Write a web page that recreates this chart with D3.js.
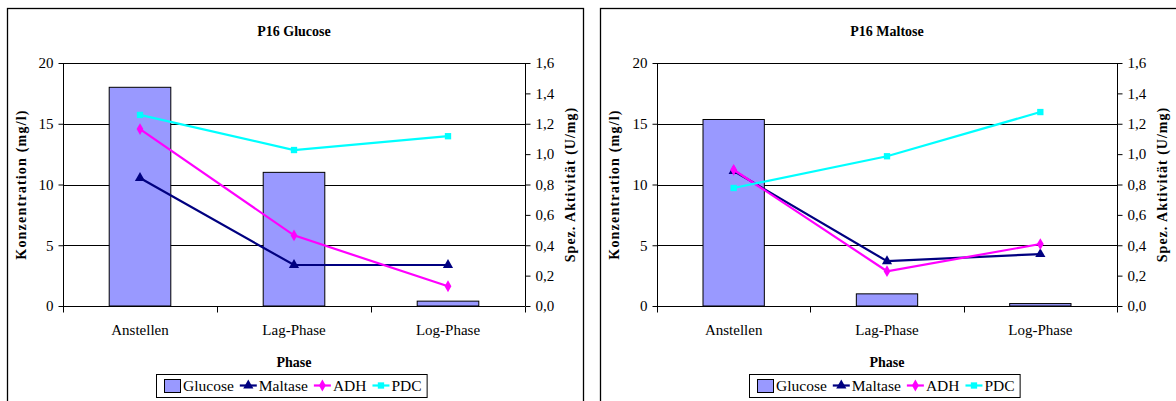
<!DOCTYPE html>
<html>
<head>
<meta charset="utf-8">
<script src="https://cdn.jsdelivr.net/npm/d3@7"></script>
<style>
  html, body { margin: 0; padding: 0; background: #fff; }
  svg { display: block; }
  svg text { font-family: "Liberation Serif", "Times New Roman", serif !important; fill: #000; }
</style>
</head>
<body>
<svg id="chart" width="1176" height="401"></svg>
<script>
// ---- Data ----
const categories = ["Anstellen", "Lag-Phase", "Log-Phase"];
const leftTicks = [0, 5, 10, 15, 20];
const rightTicks = [0, 0.2, 0.4, 0.6, 0.8, 1.0, 1.2, 1.4, 1.6];
const seriesNames = ["Glucose", "Maltase", "ADH", "PDC"];

// P16 Glucose
const glucoseConcG = [18.0, 11.0, 0.4];
const maltaseActG = [0.843, 0.27, 0.27];
const adhActG = [1.165, 0.465, 0.13];
const pdcActG = [1.258, 1.027, 1.118];

// P16 Maltose
const glucoseConcM = [15.35, 1.0, 0.2];
const maltaseActM = [0.889, 0.295, 0.342];
const adhActM = [0.897, 0.229, 0.408];
const pdcActM = [0.777, 0.986, 1.277];

const titles = ["P16 Glucose", "P16 Maltose"];
const yLeftTitle = "Konzentration (mg/l)";
const yRightTitle = "Spez. Aktivität (U/mg)";
const xTitle = "Phase";

// ---- Styles ----
const colors = { Glucose: "#9999FF", Maltase: "#000080", ADH: "#FF00FF", PDC: "#00FFFF" };
const markers = { Maltase: d3.symbolTriangle, ADH: d3.symbolDiamond, PDC: d3.symbolSquare };
const markerSize = { Maltase: 45, ADH: 40, PDC: 40 };
const FONT = "Liberation Serif, Times New Roman, serif";

const svg = d3.select("#chart");

function drawChart(opts) {
  const { frameX, frameW, plotX0, plotX1, title, bars, lines } = opts;
  const plotY0 = 63, plotY1 = 306;

  // frame
  svg.append("rect")
    .attr("x", frameX + 0.5).attr("y", 8.5)
    .attr("width", frameW).attr("height", 420)
    .attr("fill", "#fff").attr("stroke", "#000").attr("stroke-width", 1.3);

  const g = svg.append("g");

  const x = d3.scaleBand().domain(categories).range([plotX0, plotX1]).paddingInner(0).paddingOuter(0);
  const yL = d3.scaleLinear().domain([0, 20]).range([plotY1, plotY0]);
  const yR = d3.scaleLinear().domain([0, 1.6]).range([plotY1, plotY0]);

  // gridlines
  g.append("g").selectAll("line").data(leftTicks.filter(d => d > 0)).join("line")
    .attr("x1", plotX0).attr("x2", plotX1)
    .attr("y1", d => Math.round(yL(d)) + 0.5).attr("y2", d => Math.round(yL(d)) + 0.5)
    .attr("stroke", "#000").attr("stroke-width", 1);

  // bars
  const bw = x.bandwidth() * 0.4;
  g.append("g").selectAll("rect").data(bars).join("rect")
    .attr("x", (d, i) => x(categories[i]) + (x.bandwidth() - bw) / 2)
    .attr("y", d => yL(d))
    .attr("width", bw)
    .attr("height", d => yL(0) - yL(d))
    .attr("fill", colors.Glucose).attr("stroke", "#000").attr("stroke-width", 1);

  // left axis
  const axL = g.append("g").attr("transform", `translate(${plotX0 + 0.5},0)`)
    .call(d3.axisLeft(yL).tickValues(leftTicks).tickSize(5).tickPadding(5).tickFormat(d3.format("d")));
  axL.attr("font-family", FONT).attr("font-size", 15);
  axL.select(".domain").attr("d", `M0,${plotY0}V${plotY1}`);

  // right axis
  const fmtR = d => d.toFixed(1).replace(".", ",");
  const axR = g.append("g").attr("transform", `translate(${plotX1 + 0.5},0)`)
    .call(d3.axisRight(yR).tickValues(rightTicks).tickSize(5).tickPadding(5).tickFormat(fmtR));
  axR.attr("font-family", FONT).attr("font-size", 15);
  axR.select(".domain").attr("d", `M0,${plotY0}V${plotY1}`);

  // bottom axis
  const axB = g.append("g").attr("transform", `translate(0,${plotY1 + 0.5})`)
    .call(d3.axisBottom(x).tickSize(0).tickPadding(18));
  axB.attr("font-family", FONT).attr("font-size", 15);
  axB.select(".domain").attr("d", `M${plotX0},0H${plotX1}`);
  const bounds = categories.map(c => x(c)).concat([plotX1]);
  axB.append("g").selectAll("line").data(bounds).join("line")
    .attr("x1", d => Math.round(d) + 0.5).attr("x2", d => Math.round(d) + 0.5)
    .attr("y1", 0).attr("y2", 6).attr("stroke", "#000");

  // lines
  lines.forEach(s => {
    const pts = s.values.map((v, i) => [x(categories[i]) + x.bandwidth() / 2, yR(v)]);
    g.append("path").datum(pts)
      .attr("d", d3.line())
      .attr("fill", "none").attr("stroke", colors[s.name]).attr("stroke-width", 2.2);
    g.append("g").selectAll("path").data(pts).join("path")
      .attr("transform", d => `translate(${d[0]},${d[1]})`)
      .attr("d", d3.symbol().type(markers[s.name]).size(markerSize[s.name]))
      .attr("fill", colors[s.name]);
  });

  // titles
  const cx = (plotX0 + plotX1) / 2;
  svg.append("text").attr("x", cx).attr("y", 36).attr("text-anchor", "middle")
    .style("font-size", "14px").style("font-weight", "bold").text(title);
  svg.append("text").attr("x", cx).attr("y", 367).attr("text-anchor", "middle")
    .style("font-size", "14px").style("font-weight", "bold").text(xTitle);
  const cy = (plotY0 + plotY1) / 2;
  svg.append("text")
    .attr("transform", `translate(${frameX + 19},${cy}) rotate(-90)`)
    .attr("text-anchor", "middle")
    .style("font-size", "14px").style("font-weight", "bold").style("letter-spacing", "1.2px")
    .text(yLeftTitle);
  svg.append("text")
    .attr("transform", `translate(${plotX1 + 50},${cy}) rotate(-90)`)
    .attr("text-anchor", "middle")
    .style("font-size", "14px").style("font-weight", "bold").style("letter-spacing", "1px")
    .text(yRightTitle);

  // legend
  const lg = svg.append("g");
  let cur = 8;
  seriesNames.forEach((name, idx) => {
    const it = lg.append("g").attr("transform", `translate(${cur},0)`);
    if (name === "Glucose") {
      it.append("rect").attr("x", 0.5).attr("y", 5.5).attr("width", 16).attr("height", 13)
        .attr("fill", colors.Glucose).attr("stroke", "#000").attr("stroke-width", 1);
    } else {
      it.append("line").attr("x1", 0).attr("x2", 17).attr("y1", 11.5).attr("y2", 11.5)
        .attr("stroke", colors[name]).attr("stroke-width", 2.2);
      it.append("path").attr("transform", "translate(8.5,11.5)")
        .attr("d", d3.symbol().type(markers[name]).size(markerSize[name]))
        .attr("fill", colors[name]);
    }
    const t = it.append("text").attr("x", 19).attr("y", 17)
      .style("font-size", "15.5px").text(name);
    const w = t.node().getComputedTextLength();
    cur += 19 + w + (idx < seriesNames.length - 1 ? 6 : 5);
  });
  const lw = cur;
  lg.insert("rect", ":first-child").attr("x", 0.5).attr("y", 0.5).attr("width", lw).attr("height", 23)
    .attr("fill", "#fff").attr("stroke", "#000").attr("stroke-width", 1);
  lg.attr("transform", `translate(${Math.round(cx - 3 - lw / 2)},374)`);
}

drawChart({
  frameX: 7, frameW: 576, plotX0: 63, plotX1: 525, title: titles[0],
  bars: glucoseConcG,
  lines: [
    { name: "Maltase", values: maltaseActG },
    { name: "ADH", values: adhActG },
    { name: "PDC", values: pdcActG }
  ]
});

drawChart({
  frameX: 600, frameW: 620, plotX0: 657, plotX1: 1117, title: titles[1],
  bars: glucoseConcM,
  lines: [
    { name: "Maltase", values: maltaseActM },
    { name: "ADH", values: adhActM },
    { name: "PDC", values: pdcActM }
  ]
});
</script>
</body>
</html>
